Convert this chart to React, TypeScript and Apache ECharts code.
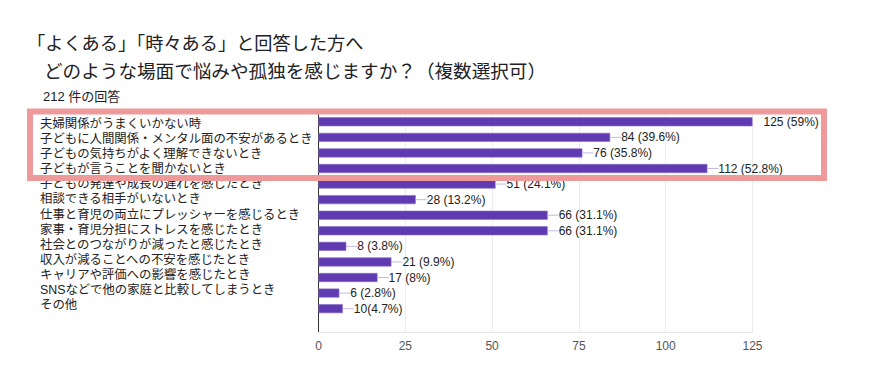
import { useEffect, useRef } from 'react';
import * as echarts from 'echarts';

const titleLine1 = '「よくある」「時々ある」と回答した方へ';
const titleLine2 = 'どのような場面で悩みや孤独を感じますか？（複数選択可）';
const responseCount = '212 件の回答';

const categories = [
  '夫婦関係がうまくいかない時',
  '子どもに人間関係・メンタル面の不安があるとき',
  '子どもの気持ちがよく理解できないとき',
  '子どもが言うことを聞かないとき',
  '子どもの発達や成長の遅れを感じたとき',
  '相談できる相手がいないとき',
  '仕事と育児の両立にプレッシャーを感じるとき',
  '家事・育児分担にストレスを感じたとき',
  '社会とのつながりが減ったと感じたとき',
  '収入が減ることへの不安を感じたとき',
  'キャリアや評価への影響を感じたとき',
  'SNSなどで他の家庭と比較してしまうとき',
  'その他',
];

const barValues = [125, 84, 76, 112, 51, 28, 66, 66, 8, 21, 17, 6, 7];

const valueLabels = [
  '125 (59%)',
  '84 (39.6%)',
  '76 (35.8%)',
  '112 (52.8%)',
  '51 (24.1%)',
  '28 (13.2%)',
  '66 (31.1%)',
  '66 (31.1%)',
  '8 (3.8%)',
  '21 (9.9%)',
  '17 (8%)',
  '6 (2.8%)',
  '10(4.7%)',
];

const xMin = 0;
const xMax = 125;
const xInterval = 25;

export default function App() {
  const ref = useRef<HTMLDivElement>(null);
  useEffect(() => {
    const chart = echarts.init(ref.current!, null, { renderer: 'svg' });
    const font = "'Liberation Sans', Arial, 'Noto Sans CJK JP', sans-serif";
    chart.setOption({
      animation: false,
      backgroundColor: '#ffffff',
      grid: [
        { left: 318.5, top: 114, width: 434, height: 218 },
        { left: 318.5, top: 116, width: 434, height: 197 },
      ],
      xAxis: [
        {
          gridIndex: 0,
          type: 'value',
          min: xMin,
          max: xMax,
          interval: xInterval,
          axisLine: { show: true, lineStyle: { color: '#e6e6e6' } },
          axisTick: { show: false },
          splitLine: { show: true, lineStyle: { color: '#ededed' } },
          axisLabel: { color: '#555', fontSize: 12, margin: 8, fontFamily: font },
        },
        { gridIndex: 1, type: 'value', show: false, min: xMin, max: xMax },
      ],
      yAxis: [
        {
          gridIndex: 0,
          type: 'category',
          inverse: true,
          data: [...categories, ''],
          axisLine: { show: true, lineStyle: { color: '#333' } },
          axisTick: { show: false },
          axisLabel: { show: false },
          splitLine: { show: false },
        },
        {
          gridIndex: 1,
          type: 'category',
          inverse: true,
          data: categories,
          axisLine: { show: false },
          axisTick: { show: false },
          splitLine: { show: false },
          axisLabel: {
            show: true,
            interval: 0,
            align: 'left',
            margin: 278.5,
            fontSize: 12.4,
            color: '#222',
            fontFamily: font,
          },
        },
      ],
      series: [
        {
          type: 'bar',
          xAxisIndex: 0,
          yAxisIndex: 0,
          data: barValues,
          barWidth: 9,
          itemStyle: { color: '#603ab0', borderColor: '#8a6fcc', borderWidth: 0.6 },
          label: {
            show: true,
            position: 'right',
            distance: 0,
            formatter: (p: any) =>
              (p.dataIndex === 0 ? '{gap|}' : '{l|}') + '{t|' + valueLabels[p.dataIndex] + '}',
            rich: {
              l: { width: 11, height: 1, backgroundColor: '#c6b8e2' },
              gap: { width: 11, height: 1 },
              t: { fontSize: 12, color: '#222', fontFamily: font },
            },
          },
        },
      ],
      graphic: [
        {
          type: 'text',
          x: 27,
          y: 44,
          style: {
            text: titleLine1,
            fontSize: 18.2,
            fontFamily: font,
            fill: '#202124',
            verticalAlign: 'middle',
          },
        },
        {
          type: 'text',
          x: 44,
          y: 71,
          style: {
            text: titleLine2,
            fontSize: 18.6,
            fontFamily: font,
            fill: '#202124',
            verticalAlign: 'middle',
          },
        },
        {
          type: 'text',
          x: 43,
          y: 96,
          style: {
            text: responseCount,
            fontSize: 13,
            fontFamily: font,
            fill: '#202124',
            verticalAlign: 'middle',
          },
        },
        {
          type: 'rect',
          z: 100,
          shape: { x: 30, y: 111.5, width: 794, height: 66.5 },
          style: { fill: 'none', stroke: '#ef9a9a', lineWidth: 6 },
        },
      ],
    });
    return () => chart.dispose();
  }, []);
  return (
    <div
      ref={ref}
      style={{ position: 'absolute', left: 0, top: 0, width: 874, height: 384 }}
    />
  );
}
